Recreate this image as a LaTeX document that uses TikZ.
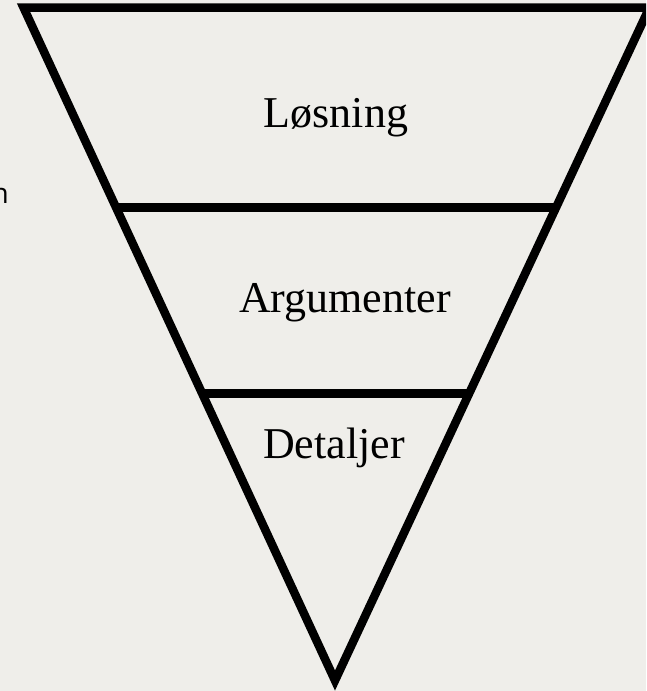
\documentclass[tikz,border=0pt]{standalone}
\usepackage{fontspec}
\setmainfont{Liberation Serif}
\newfontfamily\sidefont{Open Sans}
\definecolor{bgc}{HTML}{EFEEEA}
\tikzset{
  edge/.style={line width=8.5pt, draw=black, line join=miter, miter limit=20},
  label/.style={font=\fontsize{44}{48}\selectfont, anchor=base, inner sep=0pt, text=black}
}
\begin{document}
\begin{tikzpicture}[x=1pt, y=-1pt]
\useasboundingbox (0,0) rectangle (646,691);
\clip (0,0) rectangle (646,691);
\fill[bgc] (0,0) rectangle (646,691);
\coordinate (tl) at (23.5,7.5);
\coordinate (tr) at (649.5,7.5);
\coordinate (ap) at (335,680.5);
\coordinate (l1) at (116,207.5);
\coordinate (r1) at (556,207.5);
\coordinate (l2) at (202,393.5);
\coordinate (r2) at (469,393.5);
\draw[edge] (tl) -- (tr) -- (ap) -- cycle;
\draw[edge, line cap=butt] (l1) -- (r1);
\draw[edge, line cap=butt] (l2) -- (r2);
\node[label] (los) at (336,127) {Løsning};
\node[label] (arg) at (345,312) {Argumenter};
\node[label] (det) at (334,458) {Detaljer};
\node[font=\sidefont\fontsize{28}{30}\selectfont, anchor=base east, inner sep=0pt] (side) at (9,203) {n};
\end{tikzpicture}
\end{document}
